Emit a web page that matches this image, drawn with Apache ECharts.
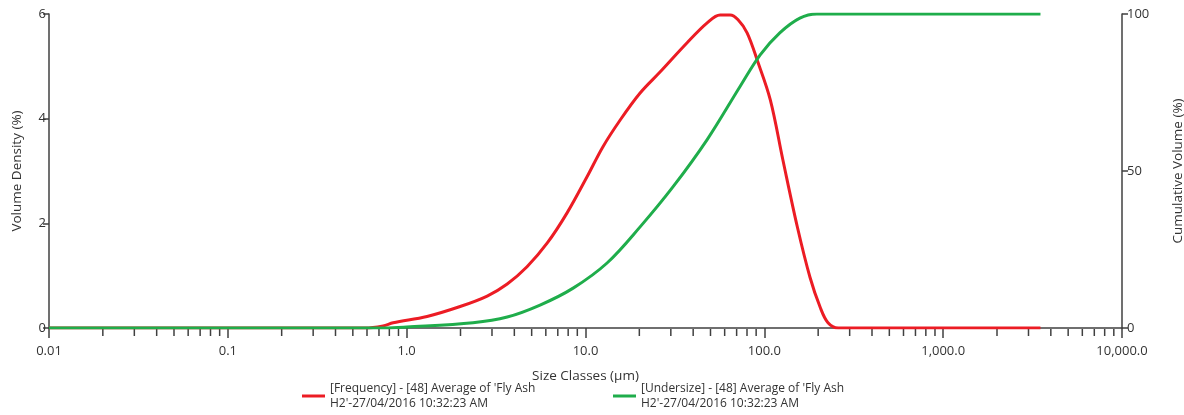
<!DOCTYPE html>
<html>
<head>
<meta charset="utf-8">
<script src="https://cdn.jsdelivr.net/npm/echarts@6/dist/echarts.min.js"></script>
<style>
html,body{margin:0;padding:0;background:#fff;}
#chart{width:1184px;height:415px;}
</style>
</head>
<body>
<div id="chart"></div>
<script>
// ---- data ----
const freqSizes = [0.01, 0.585, 0.738, 0.84, 1.30, 1.99, 2.82, 3.65, 4.71, 6.10, 7.89, 10.2, 12.5, 15.6, 20.2, 26.1, 37.0, 47.9, 56.6, 64.4, 71.3, 80.1, 91.2, 108, 127, 153, 180, 205, 227, 259, 3500];
const freqValues = [0, 0, 0.04, 0.10, 0.22, 0.41, 0.61, 0.84, 1.17, 1.62, 2.20, 2.89, 3.46, 3.97, 4.49, 4.89, 5.45, 5.83, 5.98, 5.98, 5.89, 5.64, 5.12, 4.36, 3.21, 1.93, 0.97, 0.40, 0.10, 0, 0];
const cumSizes = [0.01, 0.757, 1.00, 2.35, 3.65, 5.57, 8.53, 13.2, 20.2, 30.9, 47.9, 73.3, 94.8, 122, 158, 197, 3500];
const cumValues = [0, 0, 0.3, 1.7, 3.5, 7.3, 12.7, 20.7, 32.2, 45, 60, 77, 87, 94, 98.7, 100, 100];
const decades = [0.01, 0.1, 1, 10, 100, 1000, 10000];
const leftTicks = [0, 2, 4, 6];
const rightTicks = [0, 50, 100];
const freqName = "[Frequency] - [48] Average of 'Fly Ash\nH2'-27/04/2016 10:32:23 AM";
const cumName = "[Undersize] - [48] Average of 'Fly Ash\nH2'-27/04/2016 10:32:23 AM";

// minor tick positions 2..9 within each decade
const minorTicks = [];
for (let i = 0; i < decades.length - 1; i++) {
  for (let k = 2; k <= 9; k++) minorTicks.push([decades[i] * k, 0]);
}

const FONT = 'Open Sans';
const AX = '#404040';

function fmtX(v) {
  const r = Math.round(Math.log10(v));
  const val = Math.pow(10, r);
  if (val < 1) return val.toFixed(-r);
  return val.toLocaleString('en-US', {minimumFractionDigits: 1, maximumFractionDigits: 1});
}

const chart = echarts.init(document.getElementById('chart'), null, {renderer: 'canvas'});
chart.setOption({
  animation: false,
  backgroundColor: '#fff',
  textStyle: {fontFamily: FONT},
  grid: {left: 49, right: 62, top: 14, bottom: 87, containLabel: false, outerBoundsMode: 'none'},
  legend: [
    {
      data: [freqName], left: 302, top: 381, padding: 0, itemWidth: 23, itemHeight: 3, itemGap: 0,
      icon: 'rect', textStyle: {fontFamily: FONT, fontSize: 12, color: '#333', lineHeight: 15}
    },
    {
      data: [cumName], left: 613, top: 381, padding: 0, itemWidth: 23, itemHeight: 3, itemGap: 0,
      icon: 'rect', textStyle: {fontFamily: FONT, fontSize: 12, color: '#333', lineHeight: 15}
    }
  ],
  xAxis: {
    type: 'log', logBase: 10, min: decades[0], max: decades[decades.length - 1],
    name: 'Size Classes (µm)', nameLocation: 'middle', nameGap: 41,
    nameTextStyle: {fontFamily: FONT, fontSize: 13.5, color: '#333'},
    axisLine: {onZero: false, lineStyle: {color: AX, width: 1.5}},
    axisTick: {show: true, length: 10, lineStyle: {color: AX, width: 1.5}},
    axisLabel: {formatter: fmtX, fontFamily: FONT, fontSize: 13, color: '#333', margin: 17},
    splitLine: {show: false}, minorTick: {show: false}
  },
  yAxis: [
    {
      type: 'value', min: leftTicks[0], max: leftTicks[leftTicks.length - 1], interval: 2,
      name: 'Volume Density (%)', nameLocation: 'middle', nameGap: 25, nameRotate: 90,
      nameTextStyle: {fontFamily: FONT, fontSize: 13.5, color: '#333'},
      axisLine: {show: true, lineStyle: {color: AX, width: 1.5}},
      axisTick: {show: true, length: 6, lineStyle: {color: AX, width: 1.5}},
      axisLabel: {fontFamily: FONT, fontSize: 13, color: '#333', margin: 3},
      splitLine: {show: false}
    },
    {
      type: 'value', min: rightTicks[0], max: rightTicks[rightTicks.length - 1], interval: 50,
      position: 'right',
      name: 'Cumulative Volume (%)', nameLocation: 'middle', nameGap: 49, nameRotate: 90,
      nameTextStyle: {fontFamily: FONT, fontSize: 13.5, color: '#333'},
      axisLine: {show: true, lineStyle: {color: AX, width: 1.5}},
      axisTick: {show: true, length: 6, lineStyle: {color: AX, width: 1.5}},
      axisLabel: {fontFamily: FONT, fontSize: 13, color: '#333', margin: 5},
      splitLine: {show: false}
    }
  ],
  series: [
    {
      type: 'custom', name: 'minorTicks', xAxisIndex: 0, yAxisIndex: 0, silent: true, clip: false,
      data: minorTicks, z: 1,
      renderItem: function (params, api) {
        const p = api.coord([api.value(0), 0]);
        return {type: 'line', shape: {x1: p[0], y1: p[1] + 1, x2: p[0], y2: p[1] + 8},
          style: {stroke: AX, lineWidth: 1.5}};
      }
    },
    {
      type: 'line', name: freqName, yAxisIndex: 0, showSymbol: false, symbol: 'none',
      smooth: 0.35,
      data: freqSizes.map((s, i) => [s, freqValues[i]]),
      lineStyle: {color: '#ec1c24', width: 3}, itemStyle: {color: '#ec1c24'}, z: 3
    },
    {
      type: 'line', name: cumName, yAxisIndex: 1, showSymbol: false, symbol: 'none',
      smooth: 0.35,
      data: cumSizes.map((s, i) => [s, cumValues[i]]),
      lineStyle: {color: '#1fad4b', width: 3}, itemStyle: {color: '#1fad4b'}, z: 4
    }
  ]
});
</script>
</body>
</html>
